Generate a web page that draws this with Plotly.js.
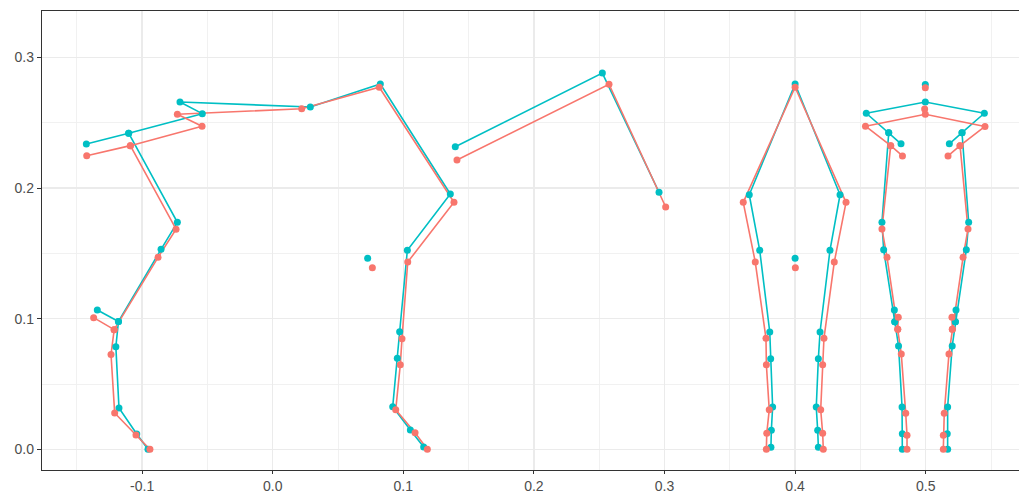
<!DOCTYPE html>
<html>
<head>
<meta charset="utf-8">
<script src="https://cdn.plot.ly/plotly-3.0.1.min.js"></script>
<style>
  html, body { margin: 0; padding: 0; background: #ffffff; overflow: hidden; }
  #chart { width: 1019px; height: 494px; }
</style>
</head>
<body>
<div id="chart"></div>
<script>
// ---- Data ----
// Side view (left figure), series 2 (teal)
const sideTealX = [-0.1427, -0.1103, -0.0539, -0.0710, 0.0288, 0.0824, 0.1360, 0.1031, 0.0972, 0.0954, 0.0919, 0.1054, 0.1156, null,
  -0.1103, -0.0730, -0.0855, -0.1181, -0.1201, -0.1177, -0.1041, -0.0955, null,
  -0.1343, -0.1181, null,
  0.1398, 0.2524, 0.2958, null,
  0.0727];
const sideTealY = [0.2338, 0.2420, 0.2570, 0.2659, 0.2621, 0.2797, 0.1955, 0.1524, 0.0900, 0.0697, 0.0326, 0.0148, 0.0018, null,
  0.2420, 0.1738, 0.1531, 0.0979, 0.0786, 0.0316, 0.0117, 0.0000, null,
  0.1067, 0.0979, null,
  0.2317, 0.2881, 0.1968, null,
  0.1462];
// Side view, series 1 (red)
const sideRedX = [-0.1424, -0.1090, -0.0541, -0.0730, 0.0222, 0.0816, 0.1388, 0.1034, 0.0990, 0.0977, 0.0942, 0.1090, 0.1184, null,
  -0.1090, -0.0740, -0.0878, -0.1214, -0.1238, -0.1210, -0.1047, -0.0940, null,
  -0.1371, -0.1214, null,
  0.1411, 0.2575, 0.3009, null,
  0.0763];
const sideRedY = [0.2248, 0.2325, 0.2473, 0.2565, 0.2608, 0.2772, 0.1891, 0.1434, 0.0847, 0.0648, 0.0303, 0.0127, 0.0000, null,
  0.2325, 0.1685, 0.1470, 0.0916, 0.0726, 0.0278, 0.0109, 0.0000, null,
  0.1008, 0.0916, null,
  0.2215, 0.2795, 0.1855, null,
  0.1391];

// Front view (figure at x = 0.4)
const frontTealX = [0.3815, 0.3818, 0.3828, 0.3813, 0.3806, 0.3729, 0.3649, 0.4000, 0.4344, 0.4267, 0.4191, 0.4178, 0.4162, 0.4173, 0.4178, null, 0.4000];
const frontTealY = [0.0015, 0.0145, 0.0324, 0.0694, 0.0898, 0.1524, 0.1949, 0.2797, 0.1949, 0.1524, 0.0898, 0.0694, 0.0324, 0.0145, 0.0015, null, 0.1462];
const frontRedX = [0.3780, 0.3783, 0.3802, 0.3780, 0.3777, 0.3695, 0.3603, 0.4000, 0.4390, 0.4300, 0.4221, 0.4211, 0.4196, 0.4211, 0.4216, null, 0.4002];
const frontRedY = [0.0000, 0.0123, 0.0303, 0.0648, 0.0850, 0.1434, 0.1891, 0.2772, 0.1891, 0.1434, 0.0850, 0.0648, 0.0303, 0.0123, 0.0000, null, 0.1391];

// Back view (figure at x = 0.5)
const backTealX = [0.4811, 0.4717, 0.4545, 0.4997, 0.5449, 0.5278, 0.5181, null,
  0.4717, 0.4665, 0.4678, 0.4763, 0.4792, 0.4819, 0.4821, 0.4821, null,
  0.4760, 0.4763, null,
  0.5278, 0.5329, 0.5311, 0.5227, 0.5203, 0.5168, 0.5165, 0.5168, null,
  0.5232, 0.5227, null,
  0.4997];
const backTealY = [0.2339, 0.2424, 0.2573, 0.2659, 0.2573, 0.2424, 0.2339, null,
  0.2424, 0.1738, 0.1528, 0.0977, 0.0791, 0.0324, 0.0119, 0.0000, null,
  0.1067, 0.0977, null,
  0.2424, 0.1738, 0.1528, 0.0977, 0.0791, 0.0324, 0.0119, 0.0000, null,
  0.1067, 0.0977, null,
  0.2793];
const backRedX = [0.4822, 0.4732, 0.4539, 0.4997, 0.5454, 0.5263, 0.5171, null,
  0.4732, 0.4665, 0.4704, 0.4786, 0.4813, 0.4847, 0.4857, 0.4857, null,
  0.4790, 0.4786, null,
  0.5263, 0.5324, 0.5286, 0.5204, 0.5178, 0.5142, 0.5135, 0.5135, null,
  0.5201, 0.5204, null,
  0.4997, null,
  0.4992];
const backRedY = [0.2246, 0.2325, 0.2474, 0.2565, 0.2472, 0.2325, 0.2246, null,
  0.2325, 0.1687, 0.1470, 0.0919, 0.0730, 0.0276, 0.0107, 0.0000, null,
  0.1011, 0.0919, null,
  0.2325, 0.1687, 0.1470, 0.0919, 0.0730, 0.0276, 0.0107, 0.0000, null,
  0.1011, 0.0919, null,
  0.2769, null,
  0.2606];

// Tick labels
const xTickVals = [-0.1, 0.0, 0.1, 0.2, 0.3, 0.4, 0.5];
const xTickText = ['-0.1', '0.0', '0.1', '0.2', '0.3', '0.4', '0.5'];
const yTickVals = [0.0, 0.1, 0.2, 0.3];
const yTickText = ['0.0', '0.1', '0.2', '0.3'];
const xMinorVals = [-0.15, -0.05, 0.05, 0.15, 0.25, 0.35, 0.45, 0.55];
const yMinorVals = [0.05, 0.15, 0.25];

// ---- Build traces ----
const RED = '#F8766D';
const TEAL = '#00BFC4';
const tealX = [].concat(sideTealX, [null], frontTealX, [null], backTealX);
const tealY = [].concat(sideTealY, [null], frontTealY, [null], backTealY);
const redX = [].concat(sideRedX, [null], frontRedX, [null], backRedX);
const redY = [].concat(sideRedY, [null], frontRedY, [null], backRedY);

function lineTrace(x, y, c) {
  return { x: x, y: y, type: 'scatter', mode: 'lines', connectgaps: false,
           line: { color: c, width: 1.6 }, hoverinfo: 'skip', showlegend: false };
}
function pointTrace(x, y, c) {
  return { x: x, y: y, type: 'scatter', mode: 'markers',
           marker: { color: c, size: 7, line: { width: 0 } }, showlegend: false };
}
const data = [
  lineTrace(tealX, tealY, TEAL),
  lineTrace(redX, redY, RED),
  pointTrace(tealX, tealY, TEAL),
  pointTrace(redX, redY, RED)
];

const axisFont = { family: 'Liberation Sans, Arial, sans-serif', size: 14, color: '#4D4D4D' };
const layout = {
  width: 1019, height: 494,
  margin: { l: 42, r: 0, t: 11, b: 24, pad: 0 },
  paper_bgcolor: '#ffffff', plot_bgcolor: '#ffffff',
  showlegend: false,
  xaxis: {
    range: [-0.17665, 0.57144],
    tickmode: 'array', tickvals: xTickVals, ticktext: xTickText,
    showgrid: true, gridcolor: '#EBEBEB', gridwidth: 1.3,
    minor: { tickmode: 'array', tickvals: xMinorVals, showgrid: true, gridcolor: '#EFEFEF', gridwidth: 0.9, ticks: '' },
    zeroline: false,
    showline: true, linecolor: '#333333', linewidth: 1.2, mirror: true,
    ticks: 'outside', ticklen: 3, tickwidth: 1.1, tickcolor: '#333333',
    tickfont: axisFont, fixedrange: true
  },
  yaxis: {
    range: [-0.01585, 0.3356],
    tickmode: 'array', tickvals: yTickVals, ticktext: yTickText,
    showgrid: true, gridcolor: '#EBEBEB', gridwidth: 1.3,
    minor: { tickmode: 'array', tickvals: yMinorVals, showgrid: true, gridcolor: '#EFEFEF', gridwidth: 0.9, ticks: '' },
    zeroline: false,
    showline: true, linecolor: '#333333', linewidth: 1.2,
    ticks: 'outside', ticklen: 4, tickwidth: 1.1, tickcolor: '#333333',
    tickfont: axisFont, fixedrange: true
  }
};

Plotly.newPlot('chart', data, layout, { displayModeBar: false, staticPlot: true });
</script>
</body>
</html>
